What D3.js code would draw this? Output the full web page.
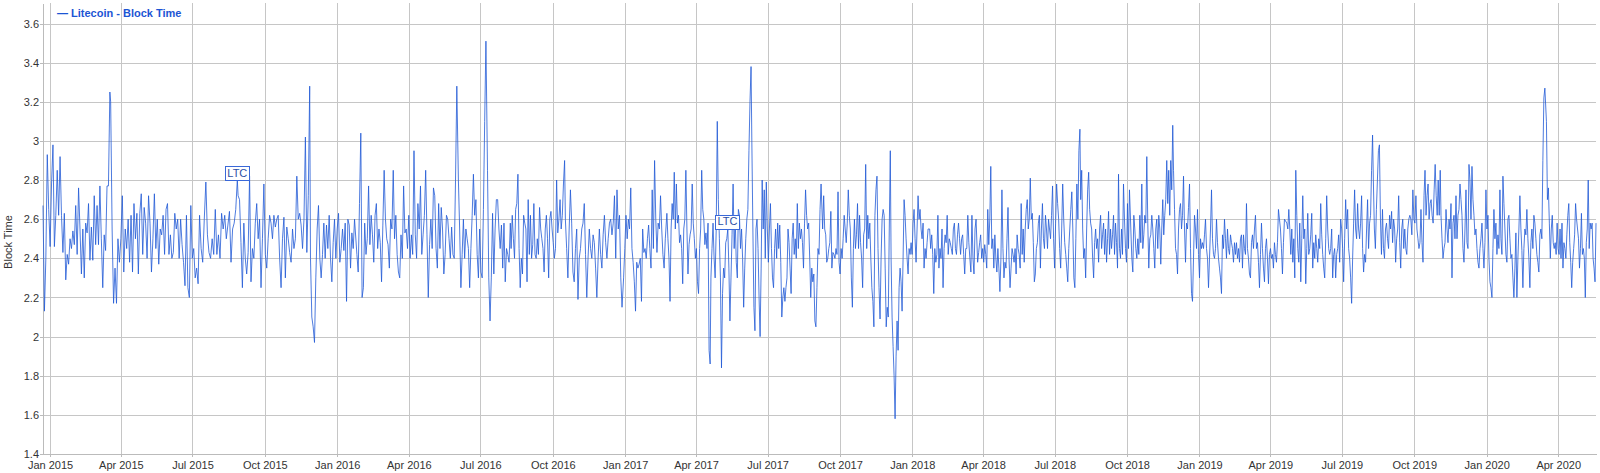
<!DOCTYPE html>
<html><head><meta charset="utf-8">
<script src="https://cdn.jsdelivr.net/npm/d3@7"></script>
<style>
body{margin:0;background:#fff;}
svg{display:block;font-family:"Liberation Sans",Arial,Helvetica,sans-serif;}
</style>
</head><body>
<svg id="chart" width="1600" height="473"></svg>
<script>
// ---------------- DATA ----------------
const seriesName = "Litecoin - Block Time";
const yAxisTitle = "Block Time";
const yTickValues = [1.4, 1.6, 1.8, 2, 2.2, 2.4, 2.6, 2.8, 3, 3.2, 3.4, 3.6];
const yTickLabels = ["1.4","1.6","1.8","2","2.2","2.4","2.6","2.8","3","3.2","3.4","3.6"];
const xTickDates = ["2015-01-01","2015-04-01","2015-07-01","2015-10-01","2016-01-01","2016-04-01","2016-07-01","2016-10-01",
  "2017-01-01","2017-04-01","2017-07-01","2017-10-01","2018-01-01","2018-04-01","2018-07-01","2018-10-01",
  "2019-01-01","2019-04-01","2019-07-01","2019-10-01","2020-01-01","2020-04-01"];
const xTickLabels = ["Jan 2015","Apr 2015","Jul 2015","Oct 2015","Jan 2016","Apr 2016","Jul 2016","Oct 2016",
  "Jan 2017","Apr 2017","Jul 2017","Oct 2017","Jan 2018","Apr 2018","Jul 2018","Oct 2018",
  "Jan 2019","Apr 2019","Jul 2019","Oct 2019","Jan 2020","Apr 2020"];
const annotationDates = ["2015-08-27","2017-05-11"];
const annotationLabels = ["LTC","LTC"];

// Each segment: values spread evenly between its first and last date
const segStarts = ["2014-12-23","2015-03-19","2015-07-12","2015-08-28","2015-11-28","2016-01-26","2016-06-03","2016-07-10",
  "2016-08-09","2016-10-17","2016-12-30","2017-02-23","2017-04-20","2017-06-11","2017-09-09","2017-12-05","2018-01-23",
  "2018-03-25","2018-08-03","2018-10-07","2018-11-29","2019-04-22","2019-08-10","2019-11-04","2020-03-17"];
const segEnds = ["2015-03-18","2015-07-10","2015-08-27","2015-11-27","2016-01-23","2016-06-01","2016-07-08","2016-08-08",
  "2016-10-16","2016-12-28","2017-02-21","2017-04-19","2017-06-10","2017-09-07","2017-12-04","2018-01-21","2018-03-23",
  "2018-08-02","2018-10-04","2018-11-28","2019-04-19","2019-08-09","2019-11-03","2020-03-15","2020-05-19"];

const segA1 = [2.67,2.13,2.40,2.93,2.65,2.46,2.78,2.98,2.46,2.62,2.85,2.62,2.92,2.62,2.43,2.63,2.29,2.42,2.37,2.50,2.45,2.54,2.47,2.67,2.42,2.76,2.55,2.32,2.55,2.30,2.58,2.53,2.68,2.39,2.56,2.39,2.72,2.47,2.67,2.47,2.77,2.50,2.25,2.52,2.44,2.77,2.77,3.25];
const segA2 = [3.20,2.55,2.17,2.35,2.17,2.50,2.38,2.50,2.72,2.33,2.55,2.45,2.60,2.38,2.62,2.33,2.68,2.50,2.63,2.32,2.63,2.73,2.42,2.66,2.58,2.40,2.72,2.58,2.33,2.50,2.73,2.45,2.60,2.37,2.55,2.52,2.62,2.42,2.65,2.68,2.42,2.52,2.40,2.43,2.63,2.55,2.60,2.40,2.60,2.47,2.38,2.26,2.62,2.25,2.20,2.67,2.40,2.45,2.30,2.35,2.27,2.62];
const segB1 = [2.45,2.38,2.60,2.79,2.52,2.43,2.40,2.50,2.42,2.65,2.42,2.52,2.40,2.63,2.55,2.62,2.50,2.57,2.64,2.38,2.55,2.58,2.65,2.80];
const segB2 = [2.72,2.70,2.48,2.25,2.58,2.40,2.32,2.43,2.82,2.28,2.45,2.40,2.58,2.68,2.50,2.60,2.25,2.50,2.78,2.42,2.35,2.50,2.62,2.58,2.50,2.62,2.56,2.60,2.62,2.40,2.25,2.50,2.61,2.30,2.56,2.50,2.43,2.38,2.55,2.45,2.50,2.82,2.60,2.63,2.57,2.45,2.60,3.02,2.43,2.72,3.28];
const segB3 = [2.40,2.10,2.05,1.97,2.30,2.55,2.67,2.40,2.30,2.42,2.58,2.40,2.57,2.45,2.62,2.40,2.28,2.48,2.60,2.40,2.55,2.63,2.38,2.45,2.55,2.44,2.58,2.18,2.60,2.57,2.35,2.53,2.45,2.60];
const segC1 = [2.42,2.33,2.68,3.04,2.20,2.25,2.58,2.42,2.50,2.77,2.47,2.62,2.52,2.38,2.62,2.68,2.45,2.55,2.48,2.28,2.57,2.85,2.60,2.50,2.47,2.35,2.60,2.55,2.85,2.50,2.62,2.42,2.33,2.30,2.52,2.40,2.77,2.53,2.55,2.45,2.62,2.40,2.52,2.42,2.95,2.52,2.40,2.68,2.55,2.77,2.42,2.52,2.62,2.85,2.52,2.20,2.47,2.60,2.45,2.76,2.72,2.45,2.35,2.68,2.45,2.66,2.55,2.32,2.42,2.62,2.60,2.50,2.40,2.56,2.42,2.40,2.80,3.28];
const segC2 = [2.80,2.55,2.25,2.42,2.60,2.40,2.55,2.50,2.45,2.25,2.45,2.62,2.83,2.62,2.70,2.42,2.30,2.55,2.33,2.30,2.65,3.10,3.51];
const segC3 = [2.85,2.30,2.08,2.30,2.63,2.32,2.55,2.70,2.70,2.55,2.45,2.57,2.35,2.58,2.28,2.45,2.42,2.38,2.58];
const segD1 = [2.45,2.62,2.50,2.40,2.65,2.68,2.83,2.45,2.25,2.40,2.32,2.62,2.58,2.55,2.28,2.70,2.42,2.62,2.40,2.47,2.68,2.42,2.40,2.50,2.42,2.66,2.55,2.50,2.45,2.33,2.55,2.62,2.50,2.30,2.60,2.64,2.55,2.48,2.40,2.45,2.80,2.53,2.60,2.70,2.55,2.62,2.78,2.90];
const segD2 = [2.60,2.45,2.30,2.55,2.75,2.58,2.33,2.28,2.45,2.55,2.19,2.40,2.45,2.55,2.58,2.68,2.42,2.20,2.40,2.55,2.45,2.40,2.52,2.48,2.35,2.20,2.40,2.55,2.42,2.35,2.52,2.62,2.48,2.40,2.50,2.58,2.60,2.52,2.58,2.72,2.40,2.75,2.55,2.62,2.30,2.15];
const segD3 = [2.30,2.45,2.62,2.50,2.60,2.55,2.76,2.45,2.38,2.28,2.13,2.38,2.35,2.37,2.40,2.18,2.55,2.43,2.45,2.40,2.50,2.57,2.45,2.35,2.75,2.45,2.90,2.60,2.43,2.58,2.55,2.72,2.55,2.42,2.35,2.50];
const segE1 = [2.63,2.50,2.40,2.18,2.55,2.68,2.60,2.84,2.55,2.78,2.58,2.62,2.48,2.52,2.45,2.27,2.55,2.60,2.85,2.55,2.32,2.47,2.52,2.55,2.78,2.58,2.50,2.40,2.45,2.28,2.22,2.45,2.55,2.85,2.65,2.60,2.47,2.53,2.45,2.58,1.93,1.86];
const segE2 = [2.30,2.45,2.58,2.40,2.30,2.55,3.10,2.70,2.50,2.30,1.84,2.22,2.35,2.30,2.48,2.50,2.55,2.35,2.08,2.30,2.52,2.78,2.45,2.60,2.38,2.30,2.65,2.62,2.45,2.55,2.40,2.15,2.35,2.50,2.60,2.65,2.95,3.20,3.38];
const segE3 = [3.00,2.55,2.15,2.03,2.55,2.60,2.45,2.20,2.00,2.35,2.80,2.55,2.75,2.40,2.79,2.55,2.38,2.55,2.68,2.45,2.30,2.25,2.45,2.55,2.40,2.58,2.45,2.57,2.38,2.10,2.20,2.25,2.18,2.25,2.30,2.55,2.48,2.35,2.22,2.50,2.58,2.42,2.50,2.40,2.68,2.45,2.58,2.50,2.55,2.48,2.35,2.58,2.75,2.62,2.55,2.58,2.40,2.20,2.35,2.28,2.32,2.08,2.05,2.25,2.45,2.42,2.65,2.78];
const segF1 = [2.55,2.72,2.55,2.52,2.38,2.40,2.45,2.48,2.64,2.35,2.43,2.42,2.40,2.45,2.42,2.74,2.38,2.32,2.45,2.40,2.50,2.62,2.55,2.48,2.58,2.75,2.62,2.55,2.30,2.15,2.45,2.60,2.45,2.52,2.68,2.45,2.62,2.48,2.40,2.25,2.52,2.55,2.88,2.45,2.62,2.50,2.58,2.40,2.25,2.18,2.05,2.62,2.75,2.82,2.45,2.25,2.09,2.40,2.60,2.65,2.62,2.35,2.05,2.15,2.10,2.55,2.95];
const segF2 = [2.40,2.10,1.95,1.80,1.58,1.90,2.08,1.93,2.25,2.35,2.28,2.13,2.40,2.70,2.62,2.50,2.40,2.32,2.45,2.42,2.48,2.42,2.58,2.65,2.50,2.38,2.55,2.72,2.60,2.65,2.55,2.50,2.58,2.35,2.45,2.40,2.48,2.55];
const segF3 = [2.55,2.45,2.52,2.42,2.22,2.45,2.38,2.42,2.62,2.35,2.45,2.40,2.55,2.25,2.45,2.52,2.48,2.62,2.42,2.50,2.48,2.45,2.42,2.55,2.58,2.45,2.42,2.52,2.58,2.50,2.42,2.50,2.52,2.42,2.32,2.45,2.45,2.62,2.48,2.40,2.33,2.62,2.40,2.32,2.55,2.60];
const segG1 = [2.38,2.43,2.48,2.52,2.40,2.45,2.38,2.47,2.42,2.35,2.65,2.47,2.60,2.87,2.45,2.50,2.35,2.52,2.40,2.33,2.45,2.35,2.23,2.40,2.75,2.45,2.30,2.38,2.35,2.50,2.66,2.40,2.25,2.35,2.45,2.42,2.38,2.45,2.32,2.52,2.45,2.42,2.35,2.68,2.42,2.55,2.38,2.55,2.65,2.70,2.55,2.60,2.81,2.60,2.63,2.48,2.28,2.32,2.45,2.48,2.58,2.62,2.35,2.55,2.68,2.50,2.45,2.62,2.55,2.45,2.60,2.55,2.50,2.62,2.77,2.50,2.35,2.58,2.78,2.68,2.60,2.45,2.35,2.55,2.78,2.60,2.48,2.42,2.35,2.28,2.45,2.55,2.65,2.74,2.55,2.30,2.25,2.50,2.78,2.60,2.95,3.06];
const segG2 = [2.70,2.85,2.55,2.40,2.45,2.30,2.55,2.75,2.84,2.65,2.58,2.55,2.40,2.30,2.48,2.55,2.45,2.50,2.38,2.55,2.62,2.45,2.52,2.58,2.42,2.55,2.38,2.50,2.64,2.42,2.55,2.45,2.52,2.62,2.42,2.58,2.48,2.35,2.83,2.45,2.40,2.55,2.42,2.78,2.60,2.45,2.38,2.68,2.45,2.75];
const segH1 = [2.40,2.33,2.62,2.55,2.45,2.40,2.50,2.42,2.62,2.48,2.78,2.45,2.52,2.62,2.58,2.92,2.58,2.35,2.50,2.52,2.62,2.55,2.45,2.35,2.55,2.60,2.45,2.62,2.55,2.37,2.55,2.70,2.52,2.62,2.70,2.90,2.68,2.85,2.62,2.90,2.75,3.08];
const segH2 = [2.85,2.65,2.45,2.42,2.32,2.55,2.65,2.68,2.55,2.62,2.82,2.55,2.38,2.58,2.55,2.66,2.78,2.45,2.22,2.18,2.40,2.62,2.55,2.45,2.65,2.42,2.30,2.50,2.45,2.48,2.45,2.52,2.60,2.45,2.40,2.25,2.40,2.55,2.75,2.50,2.42,2.40,2.45,2.60,2.48,2.40,2.35,2.30,2.22,2.52,2.45,2.60,2.50,2.40,2.55,2.45,2.42,2.52,2.48,2.45,2.38,2.48,2.42,2.48,2.40,2.45,2.38,2.50,2.52,2.35,2.52,2.45,2.42,2.68,2.45,2.40,2.32,2.30,2.48,2.52,2.45,2.55,2.62,2.45,2.48,2.38,2.25,2.42,2.58,2.45,2.35,2.28,2.45,2.50,2.40,2.27,2.42,2.45,2.40,2.42,2.35,2.48,2.42,2.38,2.48,2.65,2.60,2.55,2.45,2.32,2.48,2.60];
const segI1 = [2.58,2.55,2.65,2.55,2.42,2.55,2.38,2.50,2.30,2.85,2.62,2.45,2.38,2.58,2.28,2.50,2.72,2.50,2.55,2.27,2.45,2.63,2.42,2.45,2.52,2.63,2.35,2.48,2.40,2.52,2.45,2.38,2.50,2.45,2.68,2.52,2.42,2.35,2.30,2.50,2.72,2.55,2.45,2.42,2.45,2.55,2.30,2.42,2.45,2.30,2.42,2.45,2.52,2.38,2.60,2.55,2.45,2.28,2.50,2.70,2.55,2.65,2.45,2.40,2.30,2.17,2.40,2.58,2.75,2.55,2.50,2.68,2.55,2.50,2.58,2.72,2.45,2.33,2.42,2.38,2.55,2.70,2.45,2.58,2.62,2.85,3.03];
const segI2 = [2.80,2.55,2.45,2.65,2.80,2.95,2.98,2.60,2.42,2.65,2.45,2.40,2.55,2.58,2.50,2.45,2.62,2.55,2.64,2.48,2.60,2.55,2.38,2.50,2.55,2.72,2.48,2.35,2.55,2.60,2.45,2.55,2.45,2.42,2.55,2.60,2.62,2.60,2.52,2.75,2.60,2.58,2.72,2.55,2.50,2.45,2.48,2.65,2.48,2.38,2.72,2.85,2.62,2.72,2.78,2.60,2.68,2.70,2.62,2.58,2.75,2.88,2.72,2.62,2.80,2.62,2.85];
const segJ1 = [2.62,2.50,2.40,2.45,2.48,2.65,2.55,2.48,2.60,2.55,2.68,2.30,2.58,2.62,2.50,2.72,2.50,2.62,2.65,2.78,2.70,2.62,2.45,2.38,2.55,2.75,2.48,2.45,2.88,2.80,2.60,2.87,2.70,2.62,2.52,2.55,2.45,2.38,2.35,2.45,2.50,2.58,2.45,2.35,2.48,2.75,2.55,2.62,2.40,2.28,2.25,2.20,2.45,2.65,2.50,2.58,2.42,2.52,2.45,2.75,2.50,2.42,2.82,2.68,2.55,2.42,2.38,2.60,2.62,2.50,2.40,2.42,2.30,2.20,2.35,2.53,2.20,2.40,2.55,2.72,2.55,2.44,2.25,2.45,2.55,2.52,2.65,2.50,2.40,2.25,2.48,2.55,2.45,2.62,2.58,2.50,2.42,2.38,2.33,2.52,2.55,2.50,2.90,3.22,3.27];
const segJ2 = [3.10,2.70,2.76,2.58,2.40,2.55,2.62,2.48,2.45,2.48,2.42,2.58,2.45,2.42,2.55,2.40,2.58,2.35,2.48,2.45,2.40,2.52,2.62,2.68,2.48,2.38,2.25,2.38,2.45,2.52,2.68,2.60,2.55,2.50,2.35,2.45,2.63,2.42,2.45,2.40,2.20,2.48,2.55,2.80,2.45,2.58,2.55,2.58,2.40,2.35,2.28,2.58];

const segValues = [segA1,segA2,segB1,segB2,segB3,segC1,segC2,segC3,segD1,segD2,segD3,segE1,segE2,segE3,
  segF1,segF2,segF3,segG1,segG2,segH1,segH2,segI1,segI2,segJ1,segJ2];

// ---------------- BUILD ----------------
const parse = d3.utcParse("%Y-%m-%d");
const data = [];
segValues.forEach((vals, i) => {
  const t0 = +parse(segStarts[i]), t1 = +parse(segEnds[i]);
  const n = vals.length;
  vals.forEach((v, j) => {
    data.push({date: new Date(t0 + (t1 - t0) * (n > 1 ? j / (n - 1) : 0)), v});
  });
});

const color = "#2159d6";
const plot = {left: 43, right: 1596, top: 3, bottom: 454};
const svg = d3.select("#chart");

const x = d3.scaleUtc().domain(d3.extent(data, d => d.date)).range([plot.left, plot.right]);
const y = d3.scaleLinear().domain([1.4, 3.705]).range([plot.bottom, plot.top]);

const xTicks = xTickDates.map(parse);

// vertical grid
svg.append("g")
  .attr("transform", `translate(0,${plot.bottom})`)
  .call(d3.axisBottom(x).tickValues(xTicks).tickSize(-(plot.bottom - plot.top)).tickFormat(""))
  .call(g => g.select(".domain").remove())
  .call(g => g.selectAll("line").attr("stroke", "#c6c6c6").attr("shape-rendering", "crispEdges"));

// horizontal grid
svg.append("g")
  .attr("transform", `translate(${plot.left},0)`)
  .call(d3.axisLeft(y).tickValues(yTickValues).tickSize(-(plot.right - plot.left)).tickFormat(""))
  .call(g => g.select(".domain").remove())
  .call(g => g.selectAll("line").attr("stroke", "#c6c6c6").attr("shape-rendering", "crispEdges"));

// x axis
svg.append("g")
  .attr("transform", `translate(0,${plot.bottom})`)
  .call(d3.axisBottom(x).tickValues(xTicks).tickSizeInner(3).tickSizeOuter(0).tickPadding(4)
        .tickFormat((d, i) => xTickLabels[i]))
  .call(g => g.select(".domain").attr("stroke", "#bbb").attr("shape-rendering", "crispEdges"))
  .call(g => g.selectAll("line").attr("stroke", "#bbb").attr("shape-rendering", "crispEdges"))
  .call(g => g.selectAll("text").attr("fill", "#333").attr("font-size", 11)
        .attr("font-family", '"Liberation Sans",Arial,sans-serif'));

// y axis
svg.append("g")
  .attr("transform", `translate(${plot.left},0)`)
  .call(d3.axisLeft(y).tickValues(yTickValues).tickSizeInner(3).tickSizeOuter(0).tickPadding(1)
        .tickFormat((d, i) => yTickLabels[i]))
  .call(g => g.select(".domain").attr("stroke", "#bbb").attr("shape-rendering", "crispEdges"))
  .call(g => g.selectAll("line").attr("stroke", "#bbb").attr("shape-rendering", "crispEdges"))
  .call(g => g.selectAll("text").attr("fill", "#333").attr("font-size", 11)
        .attr("font-family", '"Liberation Sans",Arial,sans-serif'));

// y axis title
svg.append("text")
  .attr("transform", `translate(12,242) rotate(-90)`)
  .attr("text-anchor", "middle")
  .attr("font-size", 11)
  .attr("fill", "#333")
  .text(yAxisTitle);

// series line
svg.append("path")
  .datum(data)
  .attr("fill", "none")
  .attr("stroke", color)
  .attr("stroke-width", 0.8)
  .attr("stroke-linejoin", "round")
  .attr("d", d3.line().x(d => x(d.date)).y(d => y(d.v)));

// annotations
annotationDates.forEach((ds, i) => {
  const t = parse(ds);
  const pt = d3.least(data, d => Math.abs(d.date - t));
  const cx = x(t), by = y(pt.v);
  const w = 24, h = 14;
  const g = svg.append("g");
  g.append("rect")
    .attr("x", Math.round(cx - w / 2) + 0.5).attr("y", Math.round(by - h) + 0.5)
    .attr("width", w).attr("height", h)
    .attr("fill", "#fff").attr("stroke", "#3a68d8").attr("stroke-width", 1);
  g.append("text")
    .attr("x", cx).attr("y", by - 3.5)
    .attr("text-anchor", "middle")
    .attr("font-size", 11)
    .attr("fill", "#2d4fa6")
    .text(annotationLabels[i]);
});

// legend
svg.append("text")
  .attr("x", 57).attr("y", 17)
  .attr("font-size", 11)
  .attr("font-weight", "bold")
  .attr("fill", "#1c55d4")
  .text("\u2014 " + seriesName);
</script>
</body></html>
